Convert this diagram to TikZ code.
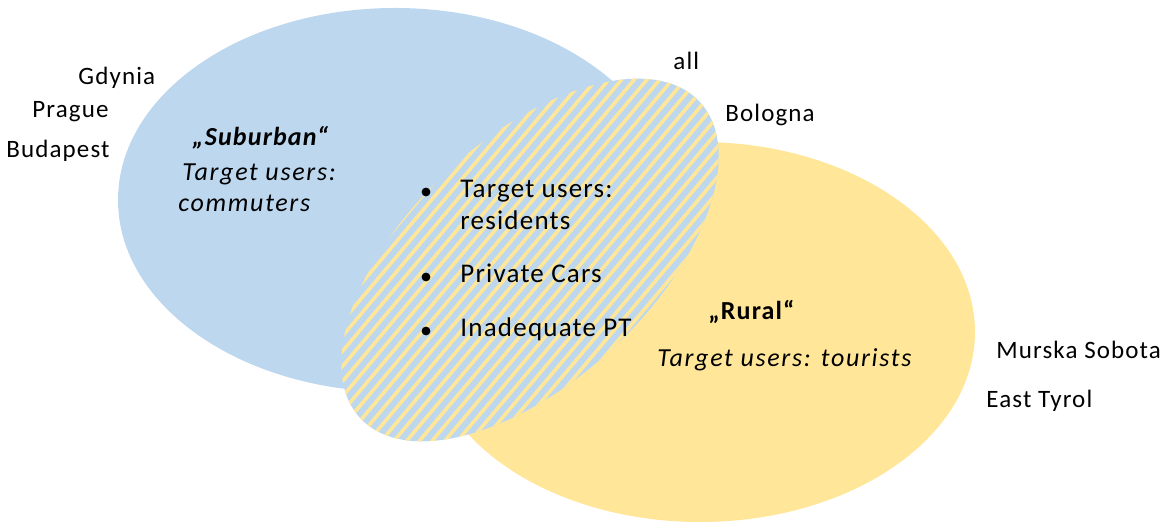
\documentclass[tikz,border=0pt]{standalone}
\usepackage{fontspec}
\setmainfont{Carlito}[LetterSpace=4.5,ItalicFeatures={LetterSpace=6.5}]
\usetikzlibrary{positioning}

\definecolor{suburban blue}{HTML}{BDD7EE}
\definecolor{rural yellow}{HTML}{FFE699}

\begin{document}
\begin{tikzpicture}
  [x=0.5pt,y=-0.5pt,
   label text/.style={anchor=base west,inner sep=0pt,font=\fontsize{12.5}{15}\selectfont},
   group title/.style={label text,font=\fontsize{13}{15.6}\selectfont\bfseries},
   user text/.style={label text,font=\fontsize{13}{15.6}\selectfont\itshape},
   item text/.style={label text,font=\fontsize{13.5}{16.2}\selectfont},
   bullet/.style={circle,fill=black,inner sep=0pt,minimum size=4.4pt},
   stripe/.style={rural yellow,line width=1.8pt}]

  \useasboundingbox (0,0) rectangle (1163,522);

  % the two sets
  \fill [suburban blue] (395,200) ellipse [x radius=277,y radius=192];
  \fill [rural yellow]  (700,332) ellipse [x radius=275,y radius=190];

  % common part, striped
  \fill [suburban blue,rotate around={43:(530,260)}]
    (530,260) ellipse [x radius=232,y radius=121];
  \begin{scope}
    \clip [rotate around={43:(530,260)}] (530,260) ellipse [x radius=232,y radius=121];
    \foreach \k in {0,...,66}
      \draw [stripe] (-100+12.7*\k,530) -- ++(412,-490);
  \end{scope}

  % cities
  \node [label text] (gdynia)   at (78,85)   {Gdynia};
  \node [label text] (prague)   at (32,118)  {Prague};
  \node [label text] (budapest) at (6,158)   {Budapest};
  \node [label text] (all)      at (673,70)  {all};
  \node [label text] (bologna)  at (725,122) {Bologna};
  \node [label text] (murska)   at (996,359) {Murska Sobota};
  \node [label text] (tyrol)    at (986,408) {East Tyrol};

  % suburban
  \node [group title] (suburban) at (192,146) {\itshape „Suburban“};
  \node [user text]   (sub users)   at (182,181) {Target users:};
  \node [user text]   (commuters)   at (178,212) {commuters};

  % rural
  \node [group title] (rural)       at (708,320) {„Rural“};
  \node [user text]   (rural users) at (657,367) {Target users: tourists};

  % common points
  \node [item text] (item1)  at (460,198) {Target users:};
  \node [item text] (item1b) at (460,230) {residents};
  \node [item text] (item2)  at (460,283) {Private Cars};
  \node [item text] (item3)  at (460,337) {Inadequate PT};
  \node [bullet] (dot1) at (426,192) {};
  \node [bullet] (dot2) at (426,277) {};
  \node [bullet] (dot3) at (426,331) {};

\end{tikzpicture}
\end{document}
